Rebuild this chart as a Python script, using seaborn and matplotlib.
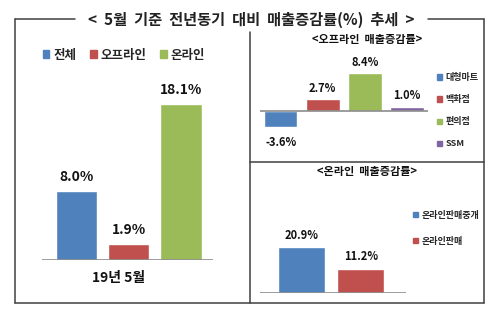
import matplotlib
matplotlib.use("Agg")
import matplotlib.pyplot as plt
import seaborn as sns
import pandas as pd
from matplotlib.lines import Line2D
from matplotlib.patches import Patch

# ---------------- data ----------------
title = "<  5월  기준  전년동기  대비  매출증감률(%)  추세  >"
main_cats = ["전체", "오프라인", "온라인"]
main_vals = [8.0, 1.9, 18.1]
main_period = "19년 5월"

off_title = "<오프라인  매출증감률>"
off_cats = ["대형마트", "백화점", "편의점", "SSM"]
off_vals = [-3.6, 2.7, 8.4, 1.0]

on_title = "<온라인  매출증감률>"
on_cats = ["온라인판매중개", "온라인판매"]
on_vals = [20.9, 11.2]

blue, red, green, purple = "#4F81BD", "#C0504D", "#9BBB59", "#8064A2"
main_colors = [blue, red, green]
off_colors = [blue, red, green, purple]
on_colors = [blue, red]

# ---------------- style ----------------
sns.set_style("white")
plt.rcParams["font.family"] = ["Noto Sans CJK KR", "DejaVu Sans"]
plt.rcParams["font.weight"] = "bold"

W, H = 500, 326
fig = plt.figure(figsize=(W / 100, H / 100), dpi=100)


def fx(px):
    return px / W


def fy(py):
    return 1 - py / H


def rect(x0, y0, x1, y1):
    return [fx(x0), fy(y1), fx(x1) - fx(x0), fy(y0) - fy(y1)]


frame_c = "#404040"


def line(xs, ys, **kw):
    fig.add_artist(Line2D([fx(x) for x in xs], [fy(y) for y in ys],
                          color=frame_c, lw=1.1, **kw))


# frame
line([15, 75], [19, 19])
line([428, 484], [19, 19])
line([15, 15], [19, 303])
line([484, 484], [19, 303])
line([15, 484], [303, 303])
line([250, 250], [32, 303])
line([250, 484], [162, 162])

fig.text(fx(251), fy(20), title, ha="center", va="center", fontsize=11,
         fontweight="bold", color="#222222")


def style_ax(ax, xlim, ylim):
    ax.set_xlim(*xlim)
    ax.set_ylim(*ylim)
    for s in ax.spines.values():
        s.set_visible(False)
    ax.set_xticks([])
    ax.set_yticks([])
    ax.set_xlabel("")
    ax.set_ylabel("")
    ax.axhline(0, color="#8C8C8C", lw=1.2, zorder=5)
    ax.patch.set_alpha(0)


# ---------------- left panel ----------------
ax1 = fig.add_axes(rect(42, 60, 213, 260))
df1 = pd.DataFrame({"cat": main_cats, "val": main_vals})
sns.barplot(data=df1, x="cat", y="val", hue="cat", palette=main_colors,
            width=0.79, saturation=1, legend=False, ax=ax1)
style_ax(ax1, (-0.66, 2.61), (0, 200 / 8.6))
for i, v in enumerate(main_vals):
    ax1.annotate(f"{v:.1f}%", (i, v), xytext=(0, 5), textcoords="offset points",
                 ha="center", va="bottom", fontsize=10, fontweight="bold",
                 color="#111111")
ax1.text(0.8, -0.09, main_period, transform=ax1.get_xaxis_transform(),
         ha="center", va="center", fontsize=10, fontweight="bold", color="#111111")
handles1 = [Patch(color=c) for c in main_colors]
fig.legend(handles1, main_cats, loc="center", bbox_to_anchor=(fx(124), fy(55)),
           ncol=3, frameon=False, handlelength=0.55, handleheight=0.55,
           handletextpad=0.3, columnspacing=1.1,
           prop={"size": 9, "weight": "bold"})

# ---------------- right top panel ----------------
fig.text(fx(367), fy(40), off_title, ha="center", va="center", fontsize=8,
         fontweight="bold", color="#111111")
ax2 = fig.add_axes(rect(260, 55, 428, 150))
df2 = pd.DataFrame({"cat": off_cats, "val": off_vals})
sns.barplot(data=df2, x="cat", y="val", hue="cat", palette=off_colors,
            width=0.8, saturation=1, legend=False, ax=ax2)
k2 = 4.5
style_ax(ax2, (-0.49, 3.5), (-(150 - 111) / k2, (111 - 55) / k2))
for i, v in enumerate(off_vals):
    if v >= 0:
        ax2.annotate(f"{v:.1f}%", (i, v), xytext=(0, 3), textcoords="offset points",
                     ha="center", va="bottom", fontsize=8, fontweight="bold",
                     color="#111111")
    else:
        ax2.annotate(f"{v:.1f}%", (i, v), xytext=(0, -6), textcoords="offset points",
                     ha="center", va="top", fontsize=8, fontweight="bold",
                     color="#111111")
handles2 = [Patch(color=c) for c in off_colors]
fig.legend(handles2, off_cats, loc="upper left", bbox_to_anchor=(fx(429), fy(65)),
           ncol=1, frameon=False, handlelength=0.5, handleheight=0.5,
           handletextpad=0.4, labelspacing=1.45,
           prop={"size": 6.5, "weight": "bold"})

# ---------------- right bottom panel ----------------
fig.text(fx(367), fy(172), on_title, ha="center", va="center", fontsize=8,
         fontweight="bold", color="#111111")
ax3 = fig.add_axes(rect(260, 200, 406, 293))
df3 = pd.DataFrame({"cat": on_cats, "val": on_vals})
sns.barplot(data=df3, x="cat", y="val", hue="cat", palette=on_colors,
            width=0.79, saturation=1, legend=False, ax=ax3)
style_ax(ax3, (-0.70, 1.76), (0, (293 - 200) / 2.18))
for i, v in enumerate(on_vals):
    ax3.annotate(f"{v:.1f}%", (i, v), xytext=(0, 4), textcoords="offset points",
                 ha="center", va="bottom", fontsize=8, fontweight="bold",
                 color="#111111")
handles3 = [Patch(color=c) for c in on_colors]
fig.legend(handles3, on_cats, loc="upper left", bbox_to_anchor=(fx(405), fy(203)),
           ncol=1, frameon=False, handlelength=0.5, handleheight=0.5,
           handletextpad=0.4, labelspacing=1.85,
           prop={"size": 6.5, "weight": "bold"})

fig.savefig("out.png", dpi=100, facecolor="white")
